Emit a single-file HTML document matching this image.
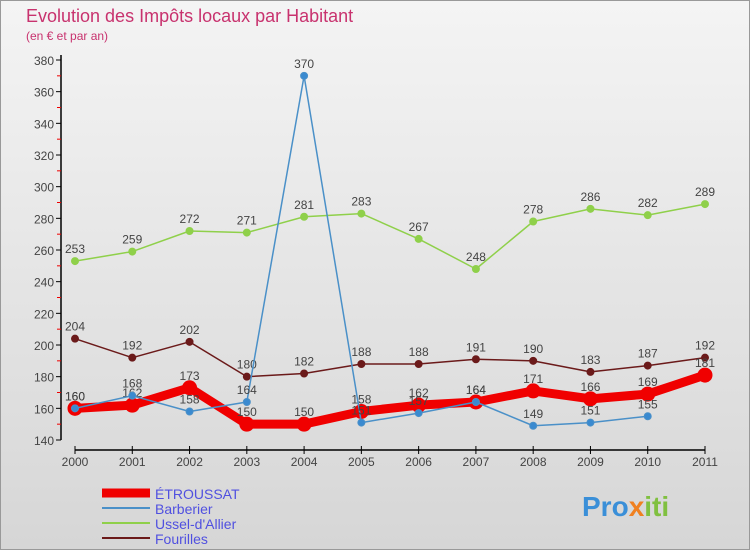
<!DOCTYPE html>
<html><head><meta charset="utf-8"><style>
body{margin:0;}
#wrap{width:750px;height:550px;position:relative;overflow:hidden;font-family:"Liberation Sans","DejaVu Sans",sans-serif;background:linear-gradient(#f4f4f4,#d6d6d6);}
svg text{font-family:"Liberation Sans","DejaVu Sans",sans-serif;}
</style></head><body>
<div id="wrap">
<svg id="chart" width="750" height="550">
<rect x="0.5" y="0.5" width="749" height="549" fill="none" stroke="#999"/>
<text x="26" y="22" font-size="18" fill="#c8326e">Evolution des Impôts locaux par Habitant</text>
<text x="26" y="40" font-size="12" fill="#c8326e">(en € et par an)</text>
<g id="axes"></g>
<g id="series"></g>
<g id="legend"></g>
<text x="582" y="516" font-size="28" font-weight="bold" fill="#3a8fd8">Pro<tspan fill="#f08020">x</tspan><tspan fill="#80c040">iti</tspan></text>
</svg>
</div>
<script>
const years=[2000,2001,2002,2003,2004,2005,2006,2007,2008,2009,2010,2011];
const yTicks=[140,160,180,200,220,240,260,280,300,320,340,360,380];
const etroussat=[160,162,173,150,150,158,162,164,171,166,169,181];
const barberier=[160,168,158,164,370,151,157,164,149,151,155,null];
const ussel=[253,259,272,271,281,283,267,248,278,286,282,289];
const fourilles=[204,192,202,180,182,188,188,191,190,183,187,192];
const NS='http://www.w3.org/2000/svg';
const xS=i=>75+i*(705-75)/11;
const yS=v=>440-(v-140)*(380/240);
function mk(tag,attrs,parent){const e=document.createElementNS(NS,tag);for(const k in attrs)e.setAttribute(k,attrs[k]);parent.appendChild(e);return e;}
const axes=document.getElementById('axes');
let ya=mk('line',{x1:61,y1:55,x2:61,y2:440,stroke:'#000','stroke-width':1.5},axes);


yTicks.forEach(v=>{
  let t=mk('line',{x1:56,y1:yS(v),x2:61,y2:yS(v),stroke:'#000'},axes);
  
  
  if(v<380){
    let m=mk('line',{x1:57,y1:yS(v+10),x2:61,y2:yS(v+10),stroke:'#e00'},axes);
    
    
  }
  let l=mk('text',{x:54,y:yS(v)+5,'font-size':12,'text-anchor':'end',fill:'#444'},axes);
  l.textContent=v;
  
  
});
let xa=mk('line',{x1:75,y1:450,x2:705,y2:450,stroke:'#000','stroke-width':1.5},axes);


years.forEach((y,i)=>{
  let t=mk('line',{x1:xS(i),y1:446,x2:xS(i),y2:454,stroke:'#000'},axes);
  
  
  let l=mk('text',{x:xS(i),y:466,'font-size':12,'text-anchor':'middle',fill:'#444'},axes);
  l.textContent=y;
  
  
});
const ser=document.getElementById('series');
function draw(vals,color,dot,w,r,name){
  const g=mk('g',{},ser);
  
  
  let pts=[];vals.forEach((v,i)=>{if(v!==null)pts.push(xS(i)+','+yS(v));});
  let p=mk('polyline',{points:pts.join(' '),fill:'none',stroke:color,'stroke-width':w,'stroke-linejoin':'round'},g);
  
  
  vals.forEach((v,i)=>{if(v===null)return;
    let c=mk('circle',{cx:xS(i),cy:yS(v),r:r,fill:dot,stroke:color,'stroke-width':1},g);
    
    
    let t=mk('text',{x:xS(i),y:yS(v)-8,'font-size':12,'text-anchor':'middle',fill:'#444'},g);
    t.textContent=v;
    
    
  });
}
draw(ussel,'#8fd04a','#8fd04a',1.5,3.5,'ussel');
draw(fourilles,'#6b1a1a','#6b1a1a',1.5,3.5,'fourilles');
draw(etroussat,'#f00000','#f00000',9,7,'etroussat');
draw(barberier,'#4a90c8','#3a8ad0',1.5,3.5,'barberier');
const lg=document.getElementById('legend');
const items=[['ÉTROUSSAT','#f00000',9],['Barberier','#4a90c8',2],['Ussel-d\'Allier','#8fd04a',2],['Fourilles','#6b1a1a',2]];
items.forEach((it,i)=>{
  const y=493+i*15;
  let l=mk('line',{x1:102,y1:y,x2:150,y2:y,stroke:it[1],'stroke-width':it[2]},lg);
  
  
  let t=mk('text',{x:155,y:y+6,'font-size':14,fill:'#5050e0'},lg);
  t.textContent=it[0];
  
  
});
</script>
</body></html>
